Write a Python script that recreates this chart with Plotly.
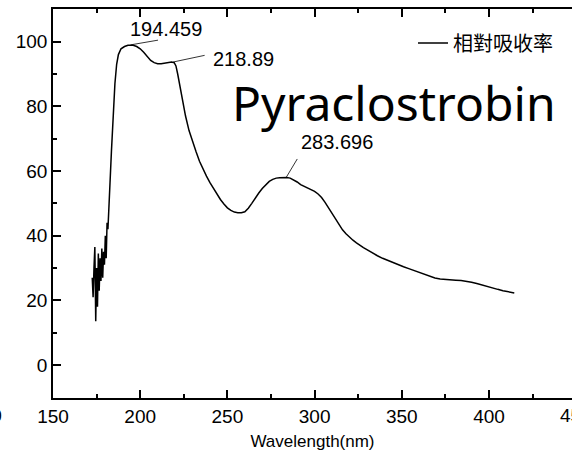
import plotly.graph_objects as go

# Noisy onset region
x_noise = [172.5, 173.0, 173.5, 174.0, 174.5, 175.0, 175.5, 176.0, 176.5, 177.0, 177.5, 178.0,
           178.5, 179.0, 179.5, 180.0, 180.5, 181.0, 181.5, 182.0, 182.5, 183.0, 183.5, 184.0]
y_noise = [27, 21, 30, 36.5, 13.5, 30, 18, 34.5, 23, 33, 26, 36,
           27, 35, 31, 40, 33, 44, 42, 50, 53, 60, 66, 72]

# Smooth part of the spectrum
x_main = [184.5, 185.5, 186.5, 187.5, 189, 191, 193, 194.5, 196, 198, 200, 202, 204, 206, 208, 210,
          212, 214, 216, 218, 219.5, 220.5, 221.5, 222.5, 224, 226, 228, 230, 232, 234, 236, 238,
          240, 242, 244, 246, 248, 250, 252, 254, 256, 258, 260, 262, 264, 266, 268, 270, 272, 274,
          276, 278, 280, 282, 284, 286, 288, 290, 292, 294, 296, 298, 300, 302, 304, 306, 308, 310,
          312, 314, 316, 318, 320, 322, 324, 326, 328, 330, 333, 336, 339, 342, 345, 348, 351, 354,
          357, 360, 363, 366, 369, 372, 375, 378, 381, 384, 387, 390, 393, 396, 399, 402, 405, 408,
          411, 414.5]
y_main = [78, 87, 93, 96, 97.8, 98.5, 98.9, 99.0, 98.9, 98.5, 97.8, 96.7, 95.4, 94.2, 93.5, 93.2,
          93.2, 93.4, 93.6, 93.7, 93.5, 92.5, 90, 87, 82, 77, 72.5, 69, 66, 63, 60.5, 58.4,
          56.4, 54.6, 52.8, 51.2, 49.8, 48.6, 47.8, 47.3, 47.1, 47.1, 47.4, 48.5, 50, 51.7, 53.2, 54.6,
          55.8, 56.8, 57.4, 57.8, 57.9, 58, 58, 57.8, 57.3, 56.6, 55.8, 55.3, 54.8, 54.3, 53.7, 52.9,
          51.8, 50.3, 48.6, 46.8, 45, 43.3, 41.8, 40.6, 39.5, 38.6, 37.8, 37, 36.3, 35.7, 34.7, 33.8,
          33, 32.3, 31.6, 31, 30.4, 29.8, 29.2, 28.6, 28, 27.4, 26.9, 26.6, 26.4, 26.3, 26.2, 26.1,
          25.9, 25.6, 25.2, 24.7, 24.2, 23.8, 23.4, 23.0, 22.7, 22.3]

wavelength = x_noise + x_main
absorb = y_noise + y_main

# Peak labels
peak_x = [194.459, 218.89, 283.696]
peak_y = [99.0, 93.7, 58.0]
peak_text = ["194.459", "218.89", "283.696"]
label_dx = [29, 33, 12]     # leader line offset in px
label_dy = [-5, -7, -20]

x_ticks = [150, 200, 250, 300, 350, 400]
y_ticks = [0, 20, 40, 60, 80, 100]

L, T, PW, PH = 53, 9, 519, 389

def px2paper(px, py):
    return (px - L) / PW, (PH - (py - T)) / PH

fig = go.Figure()
fig.add_trace(go.Scatter(x=wavelength, y=absorb, mode="lines", name="相對吸收率",
                         line=dict(color="black", width=1.5)))

for px, py, t, dx, dy in zip(peak_x, peak_y, peak_text, label_dx, label_dy):
    fig.add_annotation(x=px, y=py, ax=dx, ay=dy, text="", showarrow=True, arrowhead=0,
                       arrowwidth=0.8, arrowcolor="black", xref="x", yref="y")

fnt = dict(size=20, color="black", family="Liberation Sans")
fig.add_annotation(x=194.459, y=99.0, xref="x", yref="y", text="194.459", showarrow=False,
                   xshift=35, yshift=16, font=fnt)
fig.add_annotation(x=218.89, y=93.7, xref="x", yref="y", text="218.89", showarrow=False,
                   xanchor="left", xshift=38, yshift=3, font=fnt)
fig.add_annotation(x=283.696, y=58.0, xref="x", yref="y", text="283.696", showarrow=False,
                   xanchor="left", xshift=13, yshift=35, font=fnt)

tx, ty = px2paper(230, 103)
fig.add_annotation(x=tx, y=ty, xref="paper", yref="paper", text="Pyraclostrobin", showarrow=False,
                   xanchor="left", yanchor="middle", font=dict(size=48, color="black", family="Noto Sans"))

tickfnt = dict(size=19, color="black", family="Liberation Sans")
# tick label at 450, which falls just past the right edge of the picture
fx, fy = px2paper(53 + (450 - 150) * 519 / (447.6 - 150), 415)
fig.add_annotation(x=fx, y=fy, xref="paper", yref="paper", text="450", showarrow=False,
                   xanchor="center", yanchor="middle", font=tickfnt)
# cut-off fragment at the left edge
gx, gy = px2paper(4, 415)
fig.add_annotation(x=gx, y=gy, xref="paper", yref="paper", text="100", showarrow=False,
                   xanchor="right", yanchor="middle", font=tickfnt)

fig.update_xaxes(range=[150, 447.6], tickvals=x_ticks, ticks="inside", ticklen=8, tickwidth=1.5,
                 tickcolor="black", showline=True, linecolor="black", linewidth=1.5, mirror="ticks",
                 showgrid=False, zeroline=False, automargin=False,
                 minor=dict(dtick=25, tick0=150, ticks="inside", ticklen=4, tickwidth=1.5, tickcolor="black"),
                 tickfont=tickfnt,
                 title=dict(text="Wavelength(nm)", font=dict(size=17, color="black", family="Liberation Sans"),
                            standoff=10))
fig.update_yaxes(range=[-10.2, 110.1], tickvals=y_ticks, ticks="inside", ticklen=8, tickwidth=1.5,
                 tickcolor="black", showline=True, linecolor="black", linewidth=1.5,
                 showgrid=False, zeroline=False, automargin=False,
                 minor=dict(dtick=10, tick0=0, ticks="inside", ticklen=4, tickwidth=1.5, tickcolor="black"),
                 tickfont=tickfnt)

lx, ly = px2paper(413, 43)
fig.update_layout(width=572, height=462, margin=dict(l=L, r=572 - L - PW, t=T, b=462 - T - PH),
                  plot_bgcolor="white", paper_bgcolor="white",
                  showlegend=True,
                  legend=dict(x=lx, y=ly, xanchor="left", yanchor="middle",
                              bgcolor="rgba(0,0,0,0)",
                              font=dict(size=20, color="black", family="Noto Sans CJK TC")))

fig.write_html("out.html", config={"displayModeBar": False},
               post_script="document.body.style.margin='0';document.body.style.overflow='hidden';")
